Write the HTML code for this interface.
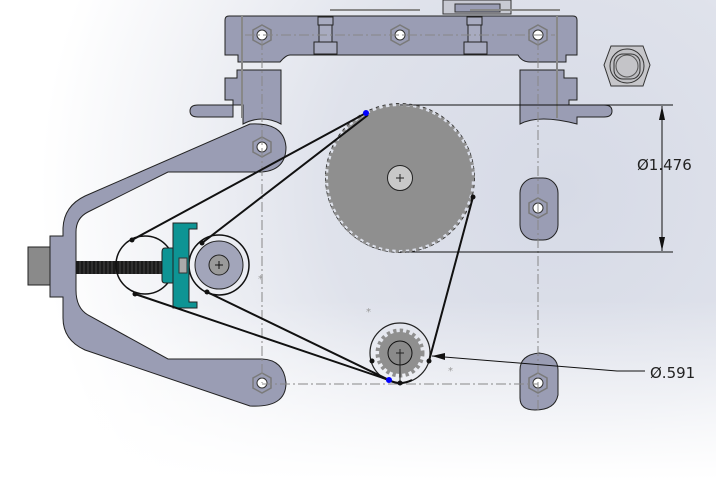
<!DOCTYPE html>
<html><head><meta charset="utf-8"><style>
html,body{margin:0;padding:0;width:716px;height:480px;overflow:hidden}
svg{display:block}
text{font-family:"DejaVu Sans","Liberation Sans",sans-serif}
</style></head><body>
<svg width="716" height="480" viewBox="0 0 716 480" xmlns="http://www.w3.org/2000/svg">
<defs>
<radialGradient id="bg" cx="560" cy="190" r="520" gradientUnits="userSpaceOnUse">
<stop offset="0" stop-color="#d6dae6"/>
<stop offset="0.45" stop-color="#dfe2eb"/>
<stop offset="0.8" stop-color="#f4f5f8"/>
<stop offset="1" stop-color="#ffffff"/>
</radialGradient>
<linearGradient id="bot" x1="0" y1="0" x2="0" y2="1">
<stop offset="0" stop-color="#ffffff" stop-opacity="0"/>
<stop offset="1" stop-color="#ffffff" stop-opacity="1"/>
</linearGradient>
</defs>
<rect width="716" height="480" fill="url(#bg)"/>
<rect y="300" width="716" height="180" fill="url(#bot)"/>

<g fill="#9a9db4" stroke="#222" stroke-width="1">
<!-- top bracket -->
<path d="M229,16 H573 Q577,16 577,20 V55 H566 V62 H530 Q522,62 518,55 H290 Q286,55 280,62 H238 V55 H225 V20 Q225,16 229,16 Z"/>
<!-- legs -->
<path d="M237,70 H281 V124 Q262,114 243,124 V105 H198 Q190,105 190,111 Q190,117 198,117 H233 V100 H225 V78 H237 Z"/>
<path d="M520,70 H564 V78 H577 V100 H569 V105 H604 Q612,105 612,111 Q612,117 604,117 H577 V124 Q539,114 520,124 Z"/>
<!-- slots right -->
<rect x="520" y="178" width="38" height="62" rx="15"/>
<path d="M520,370 Q520,355 539,353 Q558,355 558,370 V395 Q555,410 535,410 Q520,410 520,398 Z"/>
<!-- arm -->
<path d="M250,124 L85,196 Q64,206 63,228 V236 H50 V297 H63 V318 Q63,340 85,350 L250,406 Q286,408 286,383 Q284,360 262,359 H168 L88,315 Q76,308 76,290 V232 Q76,218 88,212 L168,172 H262 Q286,170 286,147 Q284,122 250,124 Z"/>
</g>
<!-- top clip -->
<rect x="443" y="0" width="68" height="14" fill="#c8cad3" stroke="#333"/>
<rect x="455" y="4" width="45" height="8" fill="#9a9db4" stroke="#333"/>
<!-- pins -->
<g fill="#a8abc0" stroke="#222">
<rect x="318" y="17" width="15" height="8"/><rect x="319" y="25" width="13" height="18"/><rect x="314" y="42" width="23" height="12"/>
<rect x="467" y="17" width="15" height="8"/><rect x="468" y="25" width="13" height="18"/><rect x="464" y="42" width="23" height="12"/>
</g>
<!-- left nut & block -->
<rect x="28" y="247" width="22" height="38" fill="#8a8a8a" stroke="#222"/>
<!-- thread -->
<rect x="76" y="261" width="88" height="13" fill="#1a1a1a"/>
<g stroke="#666" stroke-width="0.6">
<path d="M80,261V274M84,261V274M88,261V274M92,261V274M96,261V274M100,261V274M104,261V274M108,261V274M112,261V274M116,261V274M120,261V274M124,261V274M128,261V274M132,261V274M136,261V274M140,261V274M144,261V274M148,261V274M152,261V274M156,261V274M160,261V274"/>
</g>

<!-- bolt holes -->
<g fill="#fff" stroke="#333" stroke-width="1">
<circle cx="262" cy="35" r="5"/><circle cx="400" cy="35" r="5"/><circle cx="538" cy="35" r="5"/>
<circle cx="262" cy="147" r="5"/><circle cx="262" cy="383" r="5"/>
<circle cx="538" cy="208" r="5"/><circle cx="538" cy="383" r="5"/>
</g>
<g fill="none" stroke="#7a7a7a" stroke-width="1.5">
<polygon points="262,25 271,30 271,40 262,45 253,40 253,30"/>
<polygon points="400,25 409,30 409,40 400,45 391,40 391,30"/>
<polygon points="538,25 547,30 547,40 538,45 529,40 529,30"/>
<polygon points="262,137 271,142 271,152 262,157 253,152 253,142"/>
<polygon points="262,373 271,378 271,388 262,393 253,388 253,378"/>
<polygon points="538,198 547,203 547,213 538,218 529,213 529,203"/>
<polygon points="538,373 547,378 547,388 538,393 529,388 529,378"/>
</g>

<!-- construction lines -->
<g stroke="#888" stroke-width="1" fill="none">
<path d="M242,16 V118 M557,16 V118" stroke-width="2"/>
<path d="M262,40 V383 M538,40 V410 M262,384 H538 M245,35 H555" stroke-dasharray="10,3,2,3"/>
<path d="M330,10 H420 M470,10 H560" stroke-width="2"/>
</g>
<!-- right nut -->
<polygon points="611,46 643,46 650,65 643,86 611,86 604,65" fill="#c6c6ca" stroke="#333"/>
<circle cx="627" cy="66" r="17" fill="#c0c0c4" stroke="#333"/>
<rect x="614" y="54" width="26" height="25" rx="9" fill="#bdbdc1" stroke="#333"/>
<circle cx="627" cy="66" r="11" fill="#c4c4c8" stroke="#555"/>

<!-- dimension -->
<g stroke="#111" stroke-width="1" fill="none">
<path d="M400,105 H673 M400,252 H673 M662,106 V251"/>
<path d="M432,356 L617,371 H645"/>
</g>
<polygon points="662,106 659,120 665,120" fill="#111"/>
<polygon points="662,251 659,237 665,237" fill="#111"/>
<polygon points="432,356 445,353 445,360" fill="#111"/>
<text x="637" y="170" font-size="15" fill="#222">Ø1.476</text>
<text x="650" y="378" font-size="15" fill="#222">Ø.591</text>

<!-- big gear -->
<circle cx="400" cy="178" r="72" fill="#8f8f8f"/>
<circle cx="400" cy="178" r="73" fill="none" stroke="#8f8f8f" stroke-width="4" stroke-dasharray="3.4,3.4"/>
<circle cx="400" cy="178" r="74.5" fill="none" stroke="#222" stroke-width="0.7" stroke-dasharray="3,3.8"/>
<circle cx="400" cy="178" r="12.5" fill="#c8c8c8" stroke="#222"/>
<path d="M396,178H404M400,174V182" stroke="#222"/>

<!-- small gear -->
<circle cx="400" cy="353" r="30" fill="none" stroke="#222" stroke-width="1.2"/>
<circle cx="400" cy="353" r="21" fill="#8f8f8f"/>
<circle cx="400" cy="353" r="22.5" fill="none" stroke="#8f8f8f" stroke-width="4" stroke-dasharray="3.3,3.3"/>
<circle cx="400" cy="353" r="12" fill="#8a8a8a" stroke="#111"/>
<path d="M396,353H404M400,349V357M400,353V383" stroke="#222"/>

<!-- idler & pulley -->
<circle cx="145" cy="265" r="29" fill="none" stroke="#111" stroke-width="1.5"/>
<circle cx="219" cy="265" r="30" fill="none" stroke="#111" stroke-width="1.5"/>
<circle cx="219" cy="265" r="24" fill="#a2a5ba" stroke="#222"/>
<circle cx="219" cy="265" r="10" fill="#9a9a9a" stroke="#222"/>
<path d="M215,265H223M219,261V269" stroke="#111"/>
<!-- teal tensioner -->
<path d="M173,223 H197 V229 H189 V302 H197 V308 H173 Z" fill="#0e9494" stroke="#222"/>
<path d="M173,248 H165 Q162,248 162,252 V280 Q162,283 165,283 H173 Z" fill="#0e9494" stroke="#222"/>
<rect x="179" y="258" width="8" height="15" fill="#aaa" stroke="#333"/>

<!-- belts -->
<g stroke="#111" stroke-width="2" fill="none">
<path d="M366,113 L132,240 M368,115 L202,243 M135,294 L389,380 M207,292 L389,380 M473,197 L429,361"/>
<path d="M389,380 Q400,386 412,380"/>
</g>
<g fill="#111">
<circle cx="132" cy="240" r="2.5"/><circle cx="135" cy="294" r="2.5"/><circle cx="202" cy="243" r="2.5"/><circle cx="207" cy="292" r="2.5"/>
<circle cx="473" cy="197" r="2.5"/><circle cx="429" cy="361" r="2.5"/><circle cx="372" cy="361" r="2.5"/><circle cx="400" cy="383" r="2.5"/>
</g>
<circle cx="366" cy="113" r="3" fill="#00f"/>
<circle cx="389" cy="380" r="3" fill="#00f"/>
<g fill="#999"><text x="258" y="282" font-size="10">*</text><text x="366" y="315" font-size="10">*</text><text x="448" y="374" font-size="10">*</text></g>
</svg>
</body></html>
